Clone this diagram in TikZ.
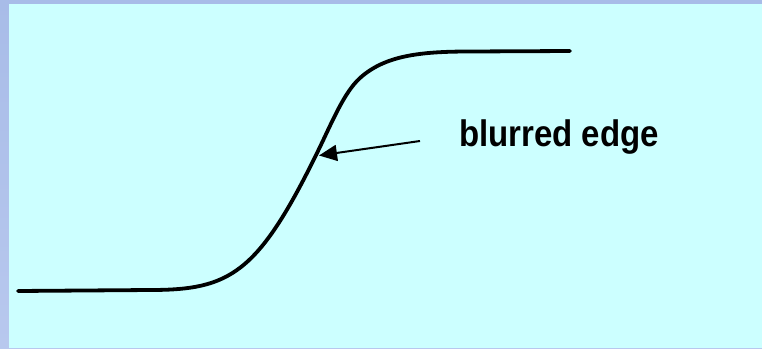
\documentclass[tikz,border=0pt]{standalone}
\usepackage{fontspec}
\setmainfont{Liberation Sans}
\usetikzlibrary{arrows.meta}
\definecolor{bgcyan}{HTML}{CCFFFF}
\definecolor{stripTop}{HTML}{A8BCE8}
\definecolor{stripBot}{HTML}{B8C8EE}
\tikzset{
  edgecurve/.style={line width=3.8pt, line cap=round, line join=round},
  pointer/.style={line width=2pt, -{Triangle[length=18pt,width=16pt]}},
  labeltext/.style={font=\bfseries\fontsize{33}{38}\selectfont, inner sep=0pt}
}
\begin{document}
\begin{tikzpicture}[x=1pt,y=-1pt]
\useasboundingbox (0,0) rectangle (762,348);
% frame
\shade[top color=stripTop, bottom color=stripBot] (0,0) rectangle (762,348);
\fill[bgcyan] (9,4) rectangle (762,348);
% blurred edge curve
\draw[edgecurve] (18,291) -- (150,290)
  .. controls (230,290) and (258,274) .. (318,151)
  .. controls (332,122.3) and (344,92.4) .. (360,78)
  .. controls (385,55.5) and (420,51.5) .. (470,51.5)
  -- (570,51);
% label and pointer
\node[labeltext, anchor=center] (lbl) at (559,137) {\scalebox{1}[1.12]{blurred edge}};
\coordinate (tail) at (420,141);
\coordinate (tip) at (319,155.5);
\draw[pointer] (tail) -- (tip);
\end{tikzpicture}
\end{document}
